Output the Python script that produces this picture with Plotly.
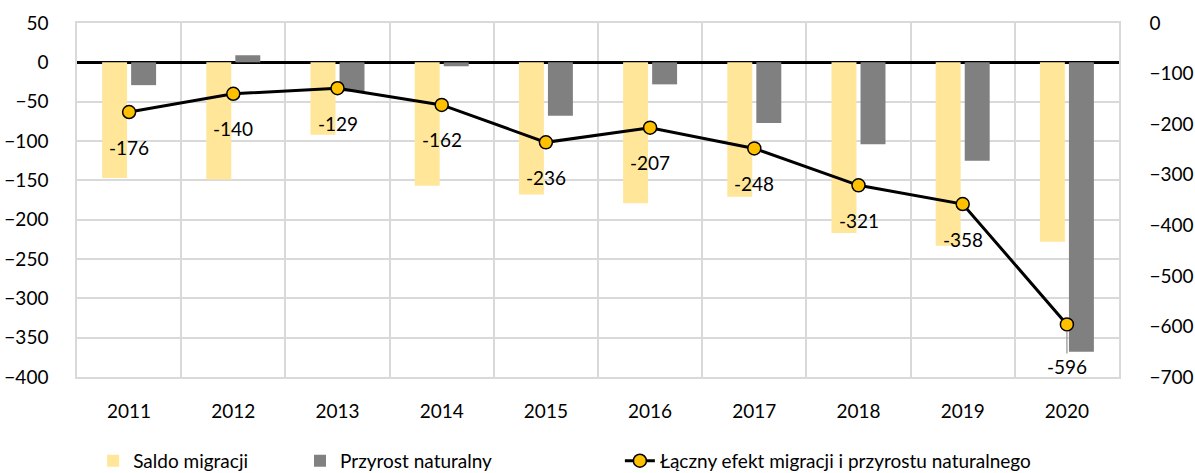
import plotly.graph_objects as go

years = ["2011", "2012", "2013", "2014", "2015", "2016", "2017", "2018", "2019", "2020"]
saldo_migracji = [-147, -149, -92, -157, -168, -179, -171, -217, -233, -228]
przyrost_naturalny = [-29, 9, -37, -5, -68, -28, -77, -104, -125, -368]
laczny_efekt = [-176, -140, -129, -162, -236, -207, -248, -321, -358, -596]

FONT = "Lato"
label_drop = [35, 35, 35, 35, 35, 35, 35, 35, 35, 42]

fig = go.Figure()

fig.add_trace(go.Bar(
    x=years, y=saldo_migracji, name="Saldo migracji",
    marker=dict(color="#FFE699", line=dict(width=0)),
    legend="legend",
))
fig.add_trace(go.Bar(
    x=years, y=przyrost_naturalny, name="Przyrost naturalny",
    marker=dict(color="#808080", line=dict(width=0)),
    legend="legend2",
))
fig.add_trace(go.Scatter(
    x=years, y=laczny_efekt, yaxis="y2",
    name="Łączny efekt migracji i przyrostu naturalnego",
    mode="lines+markers",
    line=dict(color="black", width=3),
    marker=dict(size=13, color="#FFC000", line=dict(color="black", width=1.5)),
    legend="legend3",
))

# data labels under the line points (x given as category index)
for i, v in enumerate(laczny_efekt):
    last = i == len(years) - 1
    fig.add_annotation(
        x=i, y=v, xref="x", yref="y2",
        text=str(v), showarrow=True, ax=0, ay=label_drop[i],
        arrowhead=0, arrowwidth=1.5, standoff=7,
        arrowcolor="#A6A6A6" if last else "rgba(0,0,0,0)",
        font=dict(family=FONT, size=19, color="black"),
    )

leg = dict(orientation="h", yanchor="middle", y=-0.237, xanchor="left",
           font=dict(family=FONT, size=19, color="black"),
           bgcolor="rgba(0,0,0,0)")

fig.update_layout(
    width=1195, height=473,
    margin=dict(l=77, r=76, t=23, b=96, autoexpand=False),
    plot_bgcolor="white", paper_bgcolor="white",
    font=dict(family=FONT, size=19, color="black"),
    barmode="group", bargap=0.443, bargroupgap=0.14,
    showlegend=True,
    legend=dict(leg, x=0.0155),
    legend2=dict(leg, x=0.214),
    legend3=dict(leg, x=0.521),
    xaxis=dict(
        type="category", categoryorder="array", categoryarray=years,
        range=[-0.5, len(years) - 0.5], tickson="boundaries",
        showgrid=True, gridcolor="#D9D9D9", gridwidth=1.5,
        showline=True, mirror=True, linecolor="#D9D9D9", linewidth=1.5,
        ticks="", ticklabelstandoff=16, tickangle=0,
        zeroline=False,
    ),
    yaxis=dict(
        range=[-400, 50], dtick=50,
        showgrid=True, gridcolor="#D9D9D9", gridwidth=1.5,
        showline=True, linecolor="#D9D9D9", linewidth=1.5,
        zeroline=True, zerolinecolor="black", zerolinewidth=3,
        ticks="", ticklabelstandoff=23,
    ),
    yaxis2=dict(
        range=[-700, 0], dtick=100, overlaying="y", side="right",
        showgrid=False, zeroline=False,
        showline=True, linecolor="#D9D9D9", linewidth=1.5,
        ticks="", ticklabelstandoff=25,
    ),
)

fig.write_html("out.html", config={"displayModeBar": False},
               post_script="document.body.style.margin='0';")
